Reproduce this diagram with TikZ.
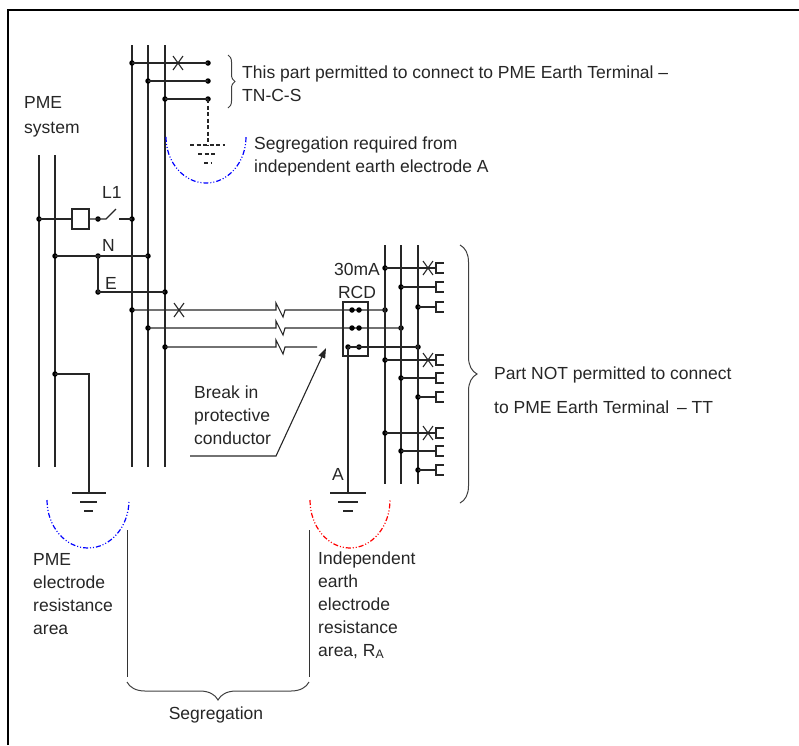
\documentclass[tikz,border=0pt]{standalone}
\usepackage{fontspec}
\setmainfont{Liberation Sans}
\usetikzlibrary{decorations.pathreplacing,arrows.meta}
\begin{document}
\begin{tikzpicture}[x=1pt,y=-1pt,
  wire/.style={line width=1.1pt,draw=black!85},
  dot/.style={circle,fill=black,inner sep=0pt,minimum size=5.5pt},
  lbl/.style={font=\fontsize{17.5}{23}\selectfont,inner sep=0pt,anchor=west,align=left,text=black!85},
  zone/.style={line width=1.2pt,dash pattern=on 5pt off 2pt on 1pt off 2pt on 1pt off 2pt},
  xmark/.style={line width=1.1pt,draw=black!85},
  brc/.style={decorate,line width=1pt,draw=black!75}
]
\useasboundingbox (0,0) rectangle (799,745);
% frame
\draw[line width=2pt] (8,745) -- (8,10) -- (799,10);

% ---------- PME system supply ----------
\coordinate (pLt) at (39,155); \coordinate (pLb) at (39,467);
\coordinate (pNt) at (55,155); \coordinate (pNb) at (55,467);
\draw[wire] (pLt) -- (pLb);
\draw[wire] (pNt) -- (pNb);
\node[dot] (jL) at (39,219) {};
\node[dot] (jN) at (55,256) {};
\node[dot] (jE) at (55,374) {};
\coordinate (eA1) at (89,374);
\coordinate (g1) at (89,493);
\draw[wire] (jE.center) -- (eA1) -- (g1);
\draw[wire] (72,493) -- (106,493) (80,502) -- (97,502) (84,511) -- (93,511);
\draw[zone,blue] (47,500) arc[start angle=180,end angle=0,x radius=41,y radius=48];

% ---------- distribution bus ----------
\foreach \n/\x in {b1/132,b2/148,b3/165}{
  \coordinate (\n t) at (\x,45); \coordinate (\n b) at (\x,467);
  \draw[wire] (\n t) -- (\n b);
}
% top branch (TN-C-S)
\node[dot] (t1) at (132,63) {};  \node[dot] (t1e) at (208,63) {};
\node[dot] (t2) at (148,81) {};  \node[dot] (t2e) at (208,81) {};
\node[dot] (t3) at (165,99) {};  \node[dot] (t3e) at (208,99) {};
\draw[wire] (t1.center) -- (t1e.center);
\draw[wire] (t2.center) -- (t2e.center);
\draw[wire] (t3.center) -- (t3e.center);
\draw[xmark] (173,56) -- (183,70) (183,56) -- (173,70);
\coordinate (g0) at (208,145);
\draw[wire,dashed,dash pattern=on 4pt off 2.5pt] (t3e.center) -- (g0);
\draw[wire,dash pattern=on 4pt off 2.5pt] (190,145) -- (225,145) (198,154) -- (217,154) (204,163) -- (212,163);
\draw[zone,blue] (166,137) arc[start angle=180,end angle=0,x radius=40,y radius=46];

% L1 with fuse and switch
\node[draw=black!85,line width=1.1pt,minimum width=17pt,minimum height=20pt,inner sep=0pt] (fuse) at (80.5,219) {};
\node[dot] (sw1) at (98,219) {};
\node[dot] (jL2) at (132,219) {};
\draw[wire] (jL.center) -- (fuse.west);
\draw[wire] (fuse.east) -- (sw1.center) -- (106,219) -- (116,209);
\coordinate (sw2) at (119,219);
\draw[wire] (sw2) -- (jL2.center);
% N and E
\node[dot] (nN) at (98,256) {};
\node[dot] (jN2) at (148,256) {};
\draw[wire] (jN.center) -- (jN2.center);
\node[dot] (nE) at (98,292) {};
\node[dot] (jE2) at (165,292) {};
\draw[wire] (nN.center) -- (nE.center) -- (jE2.center);

% ---------- sub-main to TT installation ----------
\node[dot] (m1) at (132,310) {};
\node[dot] (m2) at (148,328) {};
\node[dot] (m3) at (165,347) {};
\node[dot] (r1) at (385,310) {};
\node[dot] (r2) at (401,328) {};
\node[dot] (r3) at (418,347) {};
\draw[wire] (m1.center) -- (276,310) -- (276,303) -- (283,317) -- (285,310) -- (r1.center);
\draw[wire] (m2.center) -- (276,328) -- (276,321) -- (283,335) -- (285,328) -- (r2.center);
\coordinate (brk) at (317,347);
\draw[wire] (m3.center) -- (276,347) -- (276,340) -- (283,354) -- (285,347) -- (brk);
\draw[xmark] (174,303) -- (184,317) (184,303) -- (174,317);
% RCD
\node[draw=black!85,line width=1.1pt,minimum width=25pt,minimum height=54pt,inner sep=0pt] (rcd) at (355.5,329) {};
\node[dot] at (352,310) {}; \node[dot] at (359,310) {};
\node[dot] at (352,328) {}; \node[dot] at (359,328) {};
\node[dot] (ra) at (348,347) {}; \node[dot] at (359,347) {};
\draw[wire] (ra.center) -- (r3.center);
\coordinate (gA) at (348,493);
\draw[wire] (ra.center) -- (gA);
\draw[wire] (330,493) -- (366,493) (338,502) -- (358,502) (343,511) -- (353,511);
\draw[zone,red] (310,500) arc[start angle=180,end angle=0,x radius=40,y radius=48];

% right bus
\foreach \n/\x in {c1/385,c2/401,c3/418}{
  \coordinate (\n t) at (\x,245); \coordinate (\n b) at (\x,484);
  \draw[wire] (\n t) -- (\n b);
}
\foreach \ya/\yb/\yc [count=\i] in {268/287/307,360/378/397,433/451/470}{
  \node[dot] (f\i a) at (385,\ya) {};
  \node[dot] (f\i b) at (401,\yb) {};
  \node[dot] (f\i c) at (418,\yc) {};
  \foreach \k/\yy in {a/\ya,b/\yb,c/\yc}{
    \coordinate (s\i\k) at (436,\yy);
    \draw[wire] (f\i\k.center) -- (s\i\k);
    \draw[wire] ([xshift=8pt,yshift=5pt]s\i\k) -- ([yshift=5pt]s\i\k) -- ([yshift=-5pt]s\i\k) -- ([xshift=8pt,yshift=-5pt]s\i\k);
  }
  \draw[xmark] (423,\ya-7) -- (433,\ya+7) (433,\ya-7) -- (423,\ya+7);
}

% arrow to break
\coordinate (bl1) at (190,456);
\coordinate (bl2) at (276,456);
\coordinate (btip) at (326,348);
\draw[wire,-{Triangle[length=10pt,width=7pt]}] (bl1) -- (bl2) -- (btip);

% segregation lines and braces
\draw[line width=1pt,draw=black!80] (127,530) -- (127,677) (309,530) -- (309,677);
\draw[brc,decoration={brace,amplitude=18pt}] (309,682) -- (127,682);
\draw[brc,decoration={brace,amplitude=7pt}] (228,55) -- (228,108);
\draw[brc,decoration={brace,amplitude=17pt}] (460,245) -- (460,503);

% ---------- labels ----------
\node[lbl,font=\fontsize{17.5}{25}\selectfont] (tpme) at (24,117) {PME\\system};
\node[lbl] (tL1) at (102,192) {L1};
\node[lbl] (tN) at (102,245) {N};
\node[lbl] (tE) at (105,283) {E};
\node[lbl] (ttop) at (242,84) {This part permitted to connect to PME Earth Terminal –\\TN-C-S};
\node[lbl] (tseg1) at (254,156) {Segregation required from\\independent earth electrode A};
\node[lbl,anchor=center,align=center] (trcd) at (357,281) {30mA\\RCD};
\node[lbl] (tbrk) at (194,415) {Break in\\protective\\conductor};
\node[lbl] (tA) at (332,474) {A};
\node[lbl,font=\fontsize{17.5}{34}\selectfont] (ttt) at (494,390) {Part NOT permitted to connect\\to PME Earth Terminal \,– TT};
\node[lbl] (tpmea) at (33,594) {PME\\electrode\\resistance\\area};
\node[lbl] (tind) at (318,605) {Independent\\earth\\electrode\\resistance\\area, R\textsubscript{A}};
\node[lbl,anchor=center] (tsg) at (216,715) {Segregation};
\end{tikzpicture}
\end{document}
